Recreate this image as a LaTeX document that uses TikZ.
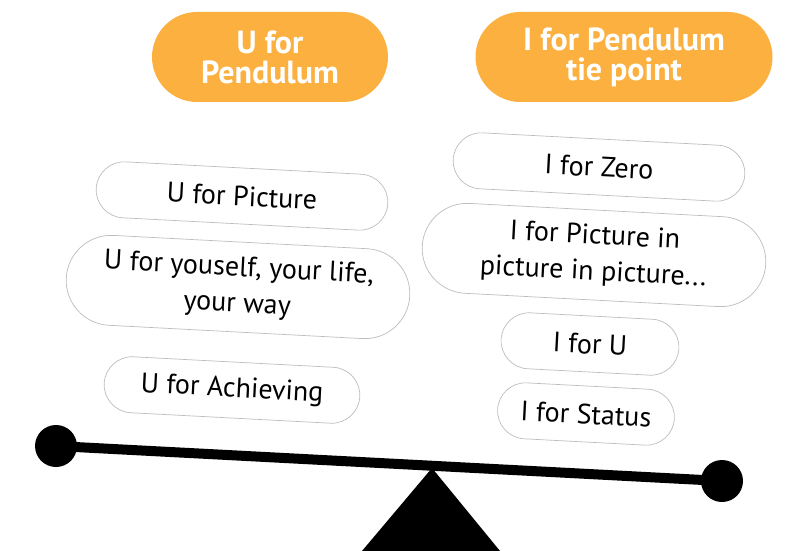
\documentclass[tikz,border=0pt]{standalone}
\usepackage{fontspec}
\setmainfont{PT Sans}
\usetikzlibrary{shapes.misc}
\definecolor{penorange}{HTML}{FBB040}
\definecolor{pillgray}{HTML}{BDBDBD}

\begin{document}
\begin{tikzpicture}[x=1pt, y=-1pt,
    head/.style={rounded rectangle, fill=penorange, text=white, align=center,
        font=\fontsize{32}{30}\bfseries\selectfont, minimum height=90pt, inner sep=0pt},
    pill/.style={rounded rectangle, draw=pillgray, line width=0.7pt, fill=white, align=center,
        font=\fontsize{28}{36}\selectfont, minimum height=56pt, inner sep=0pt, rotate=-3},
    weight/.style={circle, fill=black, minimum size=42pt, inner sep=0pt},
    beam/.style={line width=10pt}]
    \useasboundingbox (0, 0) rectangle (785, 551);
    %\draw[lightgray] (0, 0) grid[step=50] (785, 551);
    \node[head, minimum width=236pt] (uhead) at (270, 57) {U for\\Pendulum};
    \node[head, minimum width=297pt] (ihead) at (624, 57) {I for Pendulum\\tie point};
    % left side of the scale
    \node[pill, minimum width=292pt] (upic) at (242, 196) {U for Picture};
    \node[pill, minimum width=344pt, minimum height=90pt] (uself) at (238, 287) {U for youself, your life,\\your way};
    \node[pill, minimum width=256pt] (uach) at (232, 390) {U for Achieving};
    % right side of the scale
    \node[pill, minimum width=292pt] (izero) at (599, 167) {I for Zero};
    \node[pill, minimum width=344pt, minimum height=90pt] (ipic) at (594, 255) {I for Picture in\\picture in picture...};
    \node[pill, minimum width=178pt] (iu) at (590, 344) {I for U};
    \node[pill, minimum width=177pt] (istat) at (586, 414) {I for Status};
    % the scale itself
    \fill (432, 468) -- (500, 551) -- (362, 551) -- cycle;
    \node[weight] (lend) at (56, 446) {};
    \node[weight] (rend) at (722, 481) {};
    \draw[beam] (lend.center) -- (rend.center);
\end{tikzpicture}
\end{document}
